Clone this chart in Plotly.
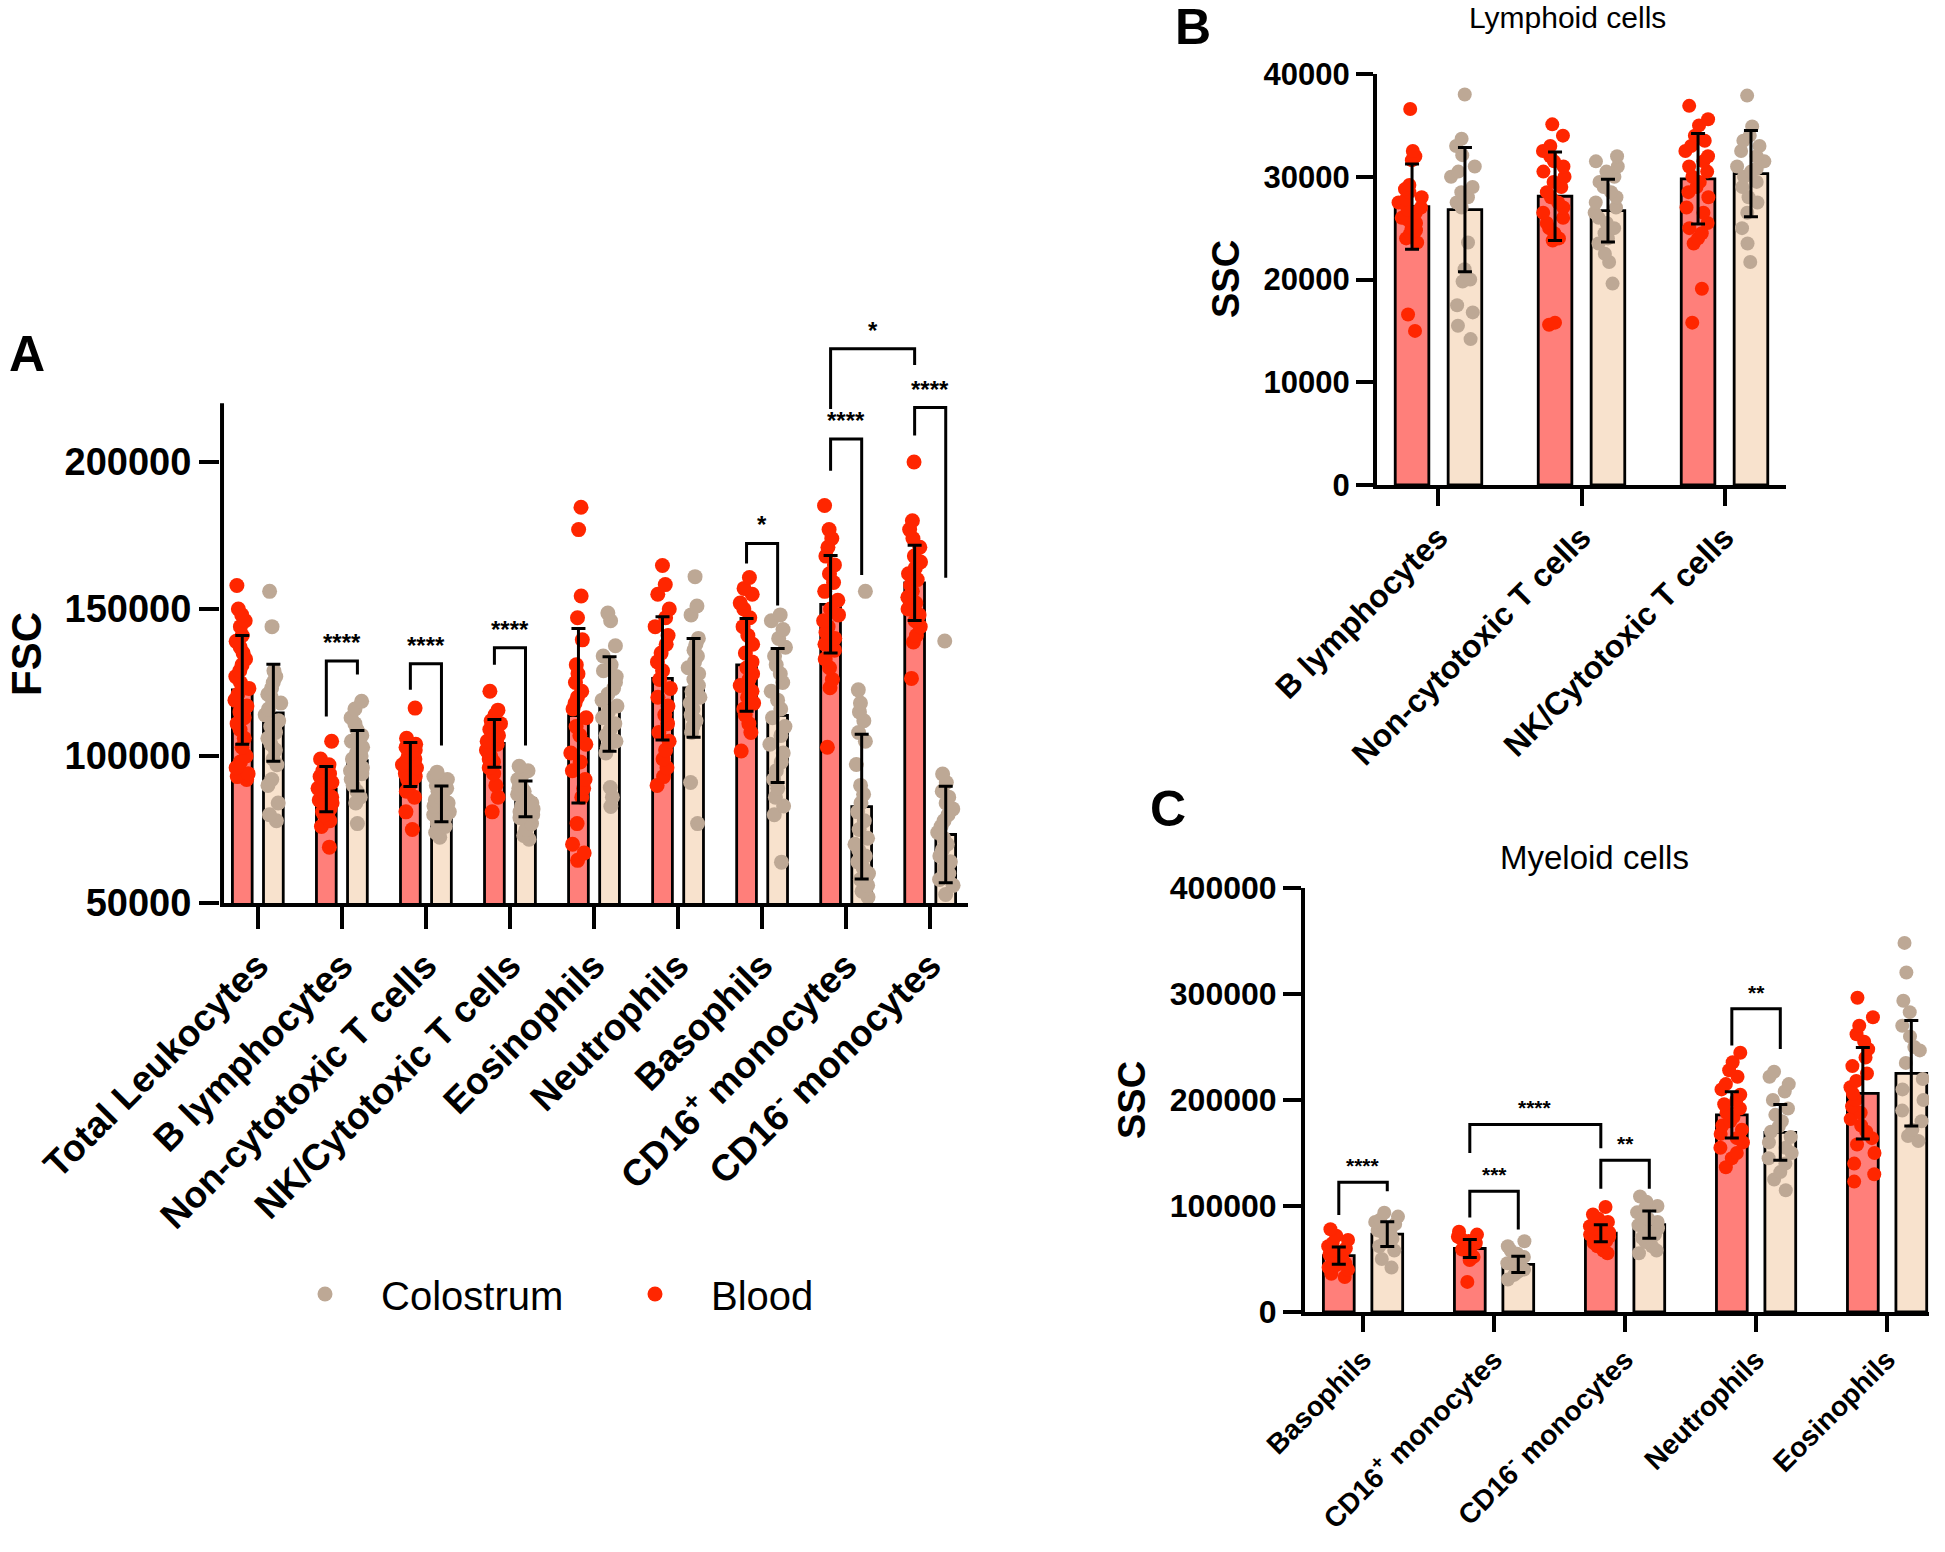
import plotly.graph_objects as go

W, H = 1945, 1552

# ---------------- DATA ----------------
# Panel A (FSC)
a_categories = ["Total Leukocytes", "B lymphocytes", "Non-cytotoxic T cells", "NK/Cytotoxic T cells",
                "Eosinophils", "Neutrophils", "Basophils", "CD16<sup>+</sup> monocytes", "CD16<sup>-</sup> monocytes"]
a_blood_mean = [122500, 88700, 97100, 104300, 113700, 126400, 131000, 151600, 158900]
a_blood_sd = [18500, 7700, 7500, 8100, 29700, 21000, 15800, 16600, 12800]
a_col_mean = [114700, 98400, 83700, 85400, 117700, 123200, 113800, 82800, 73300]
a_col_sd = [16500, 10300, 6100, 6100, 16100, 16800, 22800, 24600, 16400]
a_blood_pts = [
    [158000, 150000, 148000, 146000, 144000, 141000, 139000, 137000, 135000, 133000, 131000, 129000, 127000, 125000,
     123000, 121000, 119000, 117000, 115000, 113000, 111000, 109000, 106000, 103000, 100000, 98000, 96000, 94000, 92000, 93000],
    [105000, 99000, 97000, 96000, 95000, 94000, 93000, 92000, 91000, 90000, 89000, 88000, 87000, 86000, 85000, 84000,
     83000, 82000, 81000, 80000, 79000, 78000, 76000, 69000],
    [116300, 106000, 104000, 103000, 102000, 101000, 100000, 99000, 98000, 97000, 96000, 95000, 94000, 93000, 92000,
     91000, 90000, 88000, 86000, 81000, 75000],
    [122000, 115600, 114000, 112000, 111000, 110000, 109000, 108000, 107000, 106000, 105000, 104000, 103000, 102000,
     101000, 100000, 99000, 98000, 96000, 94000, 90000, 86000, 81000],
    [184600, 177000, 154400, 147000, 139500, 131000, 128000, 125000, 122000, 120000, 118000, 116000, 113000, 110000,
     107000, 104000, 101000, 98000, 95000, 92000, 89000, 86000, 77000, 70000, 67000, 64500],
    [164800, 158300, 155000, 150000, 147000, 144000, 141000, 138000, 135000, 132000, 129000, 126000, 123000, 120000,
     117000, 114000, 111000, 108000, 105000, 102000, 99000, 96000, 93000, 90000],
    [160700, 157000, 155000, 152000, 150000, 147000, 144000, 141000, 138000, 135000, 132000, 130000, 128000, 126000,
     124000, 122000, 120000, 118000, 116000, 114000, 111000, 108000, 101700],
    [185200, 177000, 174000, 171000, 168000, 165000, 162000, 159000, 156000, 153000, 150000, 148000, 146000, 144000,
     142000, 140000, 138000, 136000, 133000, 130000, 126000, 123200, 103000],
    [200000, 180000, 177000, 174000, 171000, 168000, 166000, 164000, 162000, 160000, 158000, 156000, 154000, 152000,
     150000, 148000, 146000, 144000, 141000, 138800, 126400],
]
a_col_pts = [
    [156000, 144000, 129000, 127000, 125000, 123000, 121000, 120000, 118000, 116000, 114000, 112000, 110000, 108000,
     106000, 104000, 102000, 99000, 97000, 92000, 90000, 84000, 80000, 78000],
    [118600, 116000, 113000, 111000, 109000, 107000, 105000, 103000, 101000, 100000, 99000, 98000, 97000, 96000, 95000,
     94000, 92000, 90000, 88000, 86000, 84000, 77000],
    [94500, 93000, 92000, 91000, 90000, 89000, 88000, 87000, 86000, 85000, 84000, 83000, 82000, 81000, 80000, 79000,
     78000, 77000, 76000, 74000, 72400],
    [96500, 95000, 93000, 92000, 91000, 90000, 89000, 88000, 87000, 86000, 85000, 84000, 83000, 82000, 81000, 80000,
     79000, 77000, 75000, 73000, 71700],
    [148600, 146000, 137500, 134000, 131000, 129000, 127000, 125000, 123000, 121000, 119000, 117000, 115000, 113000,
     111000, 109000, 107000, 105000, 103000, 101000, 89300, 86000, 82800],
    [161000, 151000, 148000, 140000, 138000, 136000, 134000, 132000, 130000, 128000, 126000, 124000, 122000, 120000,
     118000, 116000, 114000, 112000, 110000, 108000, 91000, 77000],
    [148000, 146000, 143000, 140000, 137000, 134000, 131000, 128000, 125000, 122000, 119000, 116000, 113000, 110000,
     107000, 104000, 101000, 98000, 95000, 92000, 89000, 86000, 83000, 80000, 63900],
    [156000, 122500, 118000, 115000, 112000, 108000, 105000, 97100, 90000, 87000, 84000, 81000, 78000, 75000, 72000,
     70000, 68000, 66000, 64000, 62000, 60000, 58000, 56000, 54000, 52000],
    [139100, 93900, 91000, 88000, 86000, 84000, 82000, 80000, 78000, 76000, 74000, 72000, 70000, 68000, 66000, 64000,
     62000, 60000, 58000, 56000, 52900],
]
a_ticks = [50000, 100000, 150000, 200000]
# significance brackets: (left cat, left series, right cat, right series, left leg bottom, right leg bottom, top, label)
a_brackets = [
    (1, "b", 1, "c", 113400, 127700, 132300, "****"),
    (2, "b", 2, "c", 122500, 103600, 131400, "****"),
    (3, "b", 3, "c", 131000, 103600, 136800, "****"),
    (6, "b", 6, "c", 165500, 151200, 172300, "*"),
    (7, "b", 7, "c", 197000, 161600, 207800, "****"),
    (8, "b", 8, "c", 209000, 160600, 218500, "****"),
    (7, "b", 8, "b", 218000, 233000, 238500, "*"),
]

# Panel B (Lymphoid SSC)
b_categories = ["B lymphocytes", "Non-cytotoxic T cells", "NK/Cytotoxic T cells"]
b_blood_mean = [27100, 28100, 29800]
b_blood_sd = [4150, 4300, 4400]
b_col_mean = [26800, 26700, 30300]
b_col_sd = [6050, 3050, 4200]
b_blood_pts = [
    [36600, 32500, 32000, 31600, 29200, 28800, 28500, 28000, 27800, 27500, 27000, 26800, 26500, 26000, 25800, 25500,
     25000, 24800, 24500, 24000, 23600, 16600, 15000],
    [35100, 34000, 33000, 32500, 32000, 31500, 31000, 30500, 30000, 29500, 29000, 28500, 28000, 27500, 27000, 26500,
     26000, 25500, 25000, 24500, 24000, 23800, 15800, 15600],
    [36900, 35600, 35000, 34000, 33500, 33000, 32500, 32000, 31500, 31000, 30500, 30000, 29500, 29000, 28500, 28000,
     27000, 26500, 25500, 25000, 24500, 24000, 23500, 19100, 15800],
]
b_col_pts = [
    [38000, 33700, 33000, 32100, 31000, 30500, 30000, 29000, 28500, 28000, 27500, 27000, 23600, 21000, 20000, 19800,
     17500, 16800, 15500, 14200],
    [32000, 31500, 31000, 30500, 30000, 29500, 29000, 28500, 28000, 27500, 27000, 26500, 26000, 25500, 25000, 24500,
     24000, 23500, 22500, 21700, 19600],
    [37900, 34900, 34000, 33500, 33000, 32500, 32000, 31500, 31000, 30800, 30500, 30000, 29500, 29000, 28000, 27500,
     26500, 25000, 23500, 21700],
]
b_ticks = [0, 10000, 20000, 30000, 40000]

# Panel C (Myeloid SSC)
c_categories = ["Basophils", "CD16<sup>+</sup> monocytes", "CD16<sup>-</sup> monocytes", "Neutrophils", "Eosinophils"]
c_blood_mean = [53200, 59900, 74300, 186000, 206300]
c_blood_sd = [8100, 8600, 8100, 21800, 43200]
c_col_mean = [73400, 45000, 82400, 169400, 225200]
c_col_sd = [11700, 7700, 12800, 26300, 49800]
c_blood_pts = [
    [78000, 72000, 68000, 65000, 62000, 60000, 58000, 56000, 54000, 52000, 50000, 48000, 46000, 44000, 42000, 40000,
     36000, 33000],
    [75700, 73000, 71000, 69000, 67000, 65000, 63000, 61000, 59000, 57700, 55000, 52000, 49000, 28400],
    [99100, 92000, 88000, 85000, 83000, 81000, 79000, 77000, 75000, 73000, 71000, 69000, 67000, 65000, 62000, 58000,
     55400],
    [244600, 235600, 228000, 222000, 215000, 210000, 205000, 200000, 196000, 192000, 188000, 184000, 180000, 176000,
     172000, 168000, 164000, 160000, 155000, 150000, 145000, 136500],
    [296400, 278000, 270000, 262000, 255000, 248000, 240000, 232000, 225000, 218000, 212000, 206000, 200000, 194000,
     188000, 182000, 176000, 170000, 164000, 158000, 150000, 140000, 130000, 123000],
]
c_col_pts = [
    [93700, 90000, 87000, 85000, 83000, 81000, 79000, 77000, 75000, 73000, 71000, 69000, 66000, 62000, 58000, 50000,
     41900],
    [66700, 62000, 58000, 55000, 52000, 50000, 48000, 46000, 44000, 42000, 40000, 38000, 35000, 30600],
    [109000, 104000, 100000, 97000, 94000, 91000, 88000, 85000, 82000, 79000, 76000, 73000, 70000, 66000, 62000,
     58000, 55400],
    [226600, 222000, 215000, 208000, 200000, 192000, 186000, 180000, 175000, 170000, 165000, 160000, 155000, 150000,
     145000, 140000, 132000, 125000, 114900],
    [348200, 320300, 293700, 282900, 270000, 260000, 250000, 246800, 235000, 219800, 210000, 200000, 190000, 180000,
     172000, 166000, 161300],
]
c_ticks = [0, 100000, 200000, 300000, 400000]
c_brackets = [
    (0, "b", 0, "c", 91400, 114000, 122500, "****"),
    (1, "b", 2, "b", 150000, 154500, 177000, "****"),
    (1, "b", 1, "c", 89200, 77900, 114000, "***"),
    (2, "b", 2, "c", 116200, 116200, 143200, "**"),
    (3, "b", 3, "c", 251400, 248200, 286000, "**"),
]

# ---------------- STYLE ----------------
BLOOD_DOT = "#FF2600"
BLOOD_BAR = "#FF7F7A"
COL_DOT = "#BDA895"
COL_BAR = "#F8E2CD"
OFF = 0.185
BW = 0.235
FONT = "Liberation Sans, Arial, sans-serif"


def px_x(p):
    return p / W


def px_y(p):
    return 1 - p / H


fig = go.Figure()
shapes = []
annotations = []


def add_panel(xa, ya, cats, bm, bs, cm, cs, bpts, cpts, dot_size, brackets, fsize):
    n = len(cats)
    xb = [i - OFF for i in range(n)]
    xc = [i + OFF for i in range(n)]
    fig.add_trace(go.Bar(x=xb, y=bm, width=BW, marker=dict(color=BLOOD_BAR, line=dict(color="black", width=2.8)),
                         xaxis=xa, yaxis=ya, showlegend=False))
    fig.add_trace(go.Bar(x=xc, y=cm, width=BW, marker=dict(color=COL_BAR, line=dict(color="black", width=2.8)),
                         xaxis=xa, yaxis=ya, showlegend=False))
    for pos, pts, col in ((xb, bpts, BLOOD_DOT), (xc, cpts, COL_DOT)):
        xs, ys = [], []
        for p, grp in zip(pos, pts):
            xs += [p] * len(grp)
            ys += grp
        fig.add_trace(go.Box(x=xs, y=ys, width=BW, boxpoints="all", jitter=0.85, pointpos=0,
                             fillcolor="rgba(0,0,0,0)", line=dict(color="rgba(0,0,0,0)", width=0),
                             marker=dict(color=col, size=dot_size), xaxis=xa, yaxis=ya, showlegend=False))
    for pos, m, s in ((xb, bm, bs), (xc, cm, cs)):
        fig.add_trace(go.Scatter(x=pos, y=m, mode="markers", marker=dict(size=1, color="rgba(0,0,0,0)"),
                                 error_y=dict(type="data", array=s, color="black", thickness=3, width=7),
                                 xaxis=xa, yaxis=ya, showlegend=False, hoverinfo="skip"))
    for (li, ls, ri, rs, lb, rb, top, lab) in brackets:
        lx = li - OFF if ls == "b" else li + OFF
        rx = ri - OFF if rs == "b" else ri + OFF
        shapes.append(dict(type="path", xref=xa, yref=ya,
                           path=f"M {lx},{lb} L {lx},{top} L {rx},{top} L {rx},{rb}",
                           line=dict(color="black", width=3)))
        annotations.append(dict(x=(lx + rx) / 2, y=top, xref=xa, yref=ya, text=f"<b>{lab}</b>", showarrow=False,
                                xanchor="center", yanchor="bottom", yshift=3,
                                font=dict(size=fsize, color="black", family=FONT)))


add_panel("x", "y", a_categories, a_blood_mean, a_blood_sd, a_col_mean, a_col_sd, a_blood_pts, a_col_pts, 15,
          a_brackets, 24)
add_panel("x2", "y2", b_categories, b_blood_mean, b_blood_sd, b_col_mean, b_col_sd, b_blood_pts, b_col_pts, 14,
          [], 20)
add_panel("x3", "y3", c_categories, c_blood_mean, c_blood_sd, c_col_mean, c_col_sd, c_blood_pts, c_col_pts, 14,
          c_brackets, 21)

# legend-only traces
fig.add_trace(go.Scatter(x=[None], y=[None], mode="markers", name="Colostrum",
                         marker=dict(color=COL_DOT, size=15)))
fig.add_trace(go.Scatter(x=[None], y=[None], mode="markers", name="Blood",
                         marker=dict(color=BLOOD_DOT, size=15)))

# axis line for panel A drawn as a shape (the range extends above the axis for brackets)
A_LEFT = -0.45
shapes.append(dict(type="line", xref="x", yref="y", x0=A_LEFT + 0.024, x1=A_LEFT + 0.024, y0=50000, y1=220000,
                   line=dict(color="black", width=4)))

axis_common = dict(showgrid=False, zeroline=False, showline=True, linecolor="black", linewidth=4,
                   ticks="outside", tickcolor="black", tickwidth=4, color="black", automargin=False)

fig.update_layout(
    width=W, height=H, margin=dict(l=0, r=0, t=0, b=0, autoexpand=False), plot_bgcolor="white",
    paper_bgcolor="white",
    barmode="overlay", boxmode="overlay", font=dict(family=FONT, color="black"),
    xaxis=dict(**axis_common, domain=[px_x(220), px_x(968)], range=[A_LEFT, 8.45], anchor="y",
               tickmode="array", tickvals=list(range(len(a_categories))),
               ticktext=[f"<b>{c}</b>" for c in a_categories], tickangle=-45, ticklen=22,
               tickfont=dict(size=37, family=FONT)),
    yaxis=dict(showgrid=False, zeroline=False, showline=False, ticks="outside", tickcolor="black", tickwidth=4,
               domain=[px_y(903), px_y(315)], range=[50000, 250000], anchor="x", automargin=False,
               tickmode="array", tickvals=a_ticks, ticktext=[f"<b>{t}</b>" for t in a_ticks], ticklen=20,
               tickfont=dict(size=38, family=FONT), color="black"),
    xaxis2=dict(**axis_common, domain=[px_x(1377), px_x(1786)], range=[-0.43, 2.43], anchor="y2",
                tickmode="array", tickvals=list(range(len(b_categories))),
                ticktext=[f"<b>{c}</b>" for c in b_categories], tickangle=-45, ticklen=17,
                tickfont=dict(size=32, family=FONT)),
    yaxis2=dict(**axis_common, domain=[px_y(485), px_y(74)], range=[0, 40000], anchor="x2",
                tickmode="array", tickvals=b_ticks, ticktext=[f"<b>{t}</b>" for t in b_ticks], ticklen=17,
                tickfont=dict(size=31, family=FONT)),
    xaxis3=dict(**axis_common, domain=[px_x(1305), px_x(1929)], range=[-0.443, 4.32], anchor="y3",
                tickmode="array", tickvals=list(range(len(c_categories))),
                ticktext=[f"<b>{c}</b>" for c in c_categories], tickangle=-45, ticklen=16,
                tickfont=dict(size=28, family=FONT)),
    yaxis3=dict(**axis_common, domain=[px_y(1312), px_y(888)], range=[0, 400000], anchor="x3",
                tickmode="array", tickvals=c_ticks, ticktext=[f"<b>{t}</b>" for t in c_ticks], ticklen=18,
                tickfont=dict(size=32, family=FONT)),
    legend=dict(orientation="h", x=px_x(269), y=px_y(1294), xanchor="left", yanchor="middle",
                font=dict(size=40, family=FONT, color="black"), itemwidth=102, entrywidth=213,
                bgcolor="rgba(0,0,0,0)"),
    showlegend=True,
)


def label(text, x, y, size, angle=0, bold=True):
    return dict(text=f"<b>{text}</b>" if bold else text, x=px_x(x), y=px_y(y), xref="paper", yref="paper",
                showarrow=False, xanchor="center", yanchor="middle", textangle=angle,
                font=dict(size=size, family=FONT, color="black"))


annotations += [
    label("A", 27, 354, 50),
    label("B", 1193, 27, 50),
    label("C", 1168, 809, 50),
    label("FSC", 26, 654, 42, -90),
    label("SSC", 1226, 279, 38, -90),
    label("SSC", 1132, 1100, 38, -90),
    label("Lymphoid cells", 1567, 18, 30, bold=False),
    label("Myeloid cells", 1594, 857, 33, bold=False),
]

fig.update_layout(shapes=shapes, annotations=annotations)
fig.write_html("out.html", config={"displayModeBar": False},
               post_script="document.body.style.margin='0px';")
